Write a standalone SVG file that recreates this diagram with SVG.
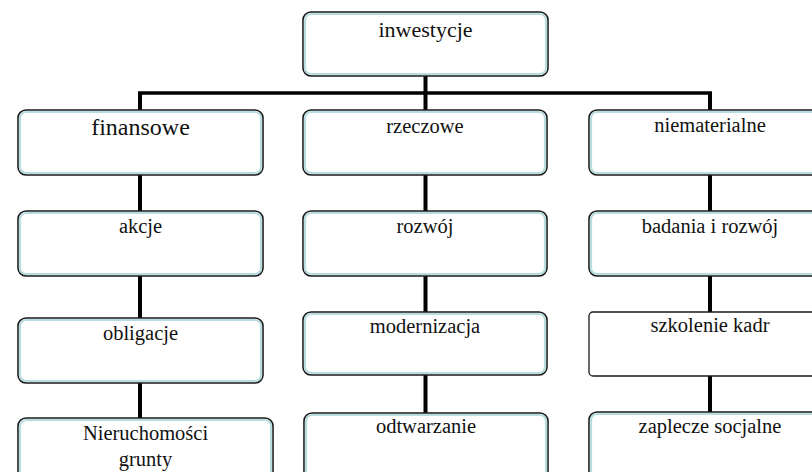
<svg xmlns="http://www.w3.org/2000/svg" width="812" height="472" viewBox="0 0 812 472">
<style>
.bd{fill:#fff;stroke:#1a1a1a;stroke-width:1.6}
.in{fill:none;stroke:#b8dde1;stroke-width:2.2}
.pl{fill:#fff;stroke:#1a1a1a;stroke-width:1.3}
.c{stroke:#000;stroke-width:4;fill:none}
text{font-family:"Liberation Serif","Times New Roman",serif;font-size:20.5px;fill:#111;text-anchor:middle}
</style>
<rect width="812" height="472" fill="#fff"/>
<g id="connectors">
<line class="c" x1="425.5" y1="76" x2="425.5" y2="110"/>
<line class="c" x1="138" y1="93" x2="712" y2="93" style="stroke-width:3.6"/>
<line class="c" x1="140" y1="93" x2="140" y2="110"/>
<line class="c" x1="710" y1="93" x2="710" y2="110"/>
<line class="c" x1="140" y1="175" x2="140" y2="211"/>
<line class="c" x1="140" y1="276" x2="140" y2="318"/>
<line class="c" x1="140" y1="383" x2="140" y2="418"/>
<line class="c" x1="425.5" y1="175" x2="425.5" y2="211"/>
<line class="c" x1="425.5" y1="276" x2="425.5" y2="312"/>
<line class="c" x1="425.5" y1="375" x2="425.5" y2="413"/>
<line class="c" x1="710" y1="175" x2="710" y2="211"/>
<line class="c" x1="710" y1="276" x2="710" y2="312"/>
<line class="c" x1="710" y1="376" x2="710" y2="412"/>
</g>
<g id="n-inwestycje"><rect class="bd" x="303" y="12" width="245" height="64" rx="8"/><rect class="in" x="305" y="14" width="241" height="60" rx="6"/><text x="425.5" y="37" style="font-size:22px">inwestycje</text></g>
<g id="n-finansowe"><rect class="bd" x="18" y="110" width="245" height="65" rx="8"/><rect class="in" x="20" y="112" width="241" height="61" rx="6"/><text x="140.5" y="135" style="font-size:24px">finansowe</text></g>
<g id="n-rzeczowe"><rect class="bd" x="303" y="110" width="244" height="65" rx="8"/><rect class="in" x="305" y="112" width="240" height="61" rx="6"/><text x="425" y="133">rzeczowe</text></g>
<g id="n-niematerialne"><rect class="bd" x="589" y="110" width="243" height="65" rx="8"/><rect class="in" x="591" y="112" width="239" height="61" rx="6"/><text x="710" y="132">niematerialne</text></g>
<g id="n-akcje"><rect class="bd" x="18" y="211" width="245" height="65" rx="8"/><rect class="in" x="20" y="213" width="241" height="61" rx="6"/><text x="140.5" y="233">akcje</text></g>
<g id="n-rozwoj"><rect class="bd" x="303" y="211" width="244" height="65" rx="8"/><rect class="in" x="305" y="213" width="240" height="61" rx="6"/><text x="425" y="233">rozwój</text></g>
<g id="n-badania"><rect class="bd" x="589" y="211" width="243" height="65" rx="8"/><rect class="in" x="591" y="213" width="239" height="61" rx="6"/><text x="710" y="233">badania i rozwój</text></g>
<g id="n-obligacje"><rect class="bd" x="18" y="318" width="245" height="65" rx="8"/><rect class="in" x="20" y="320" width="241" height="61" rx="6"/><text x="140.5" y="340">obligacje</text></g>
<g id="n-modernizacja"><rect class="bd" x="303" y="312" width="244" height="63" rx="8"/><rect class="in" x="305" y="314" width="240" height="59" rx="6"/><text x="425" y="333">modernizacja</text></g>
<g id="n-szkolenie"><rect class="pl" x="589" y="312" width="243" height="64" rx="4"/><text x="710" y="332">szkolenie kadr</text></g>
<g id="n-nieruchomosci"><rect class="bd" x="18" y="418" width="255" height="70" rx="8"/><rect class="in" x="20" y="420" width="251" height="66" rx="6"/><text x="145.5" y="440">Nieruchomości</text><text x="145.5" y="466">grunty</text></g>
<g id="n-odtwarzanie"><rect class="bd" x="304" y="413" width="244" height="70" rx="8"/><rect class="in" x="306" y="415" width="240" height="66" rx="6"/><text x="426" y="433">odtwarzanie</text></g>
<g id="n-zaplecze"><rect class="bd" x="589" y="412" width="243" height="70" rx="8"/><rect class="in" x="591" y="414" width="239" height="66" rx="6"/><text x="710" y="433">zaplecze socjalne</text></g>
</svg>
